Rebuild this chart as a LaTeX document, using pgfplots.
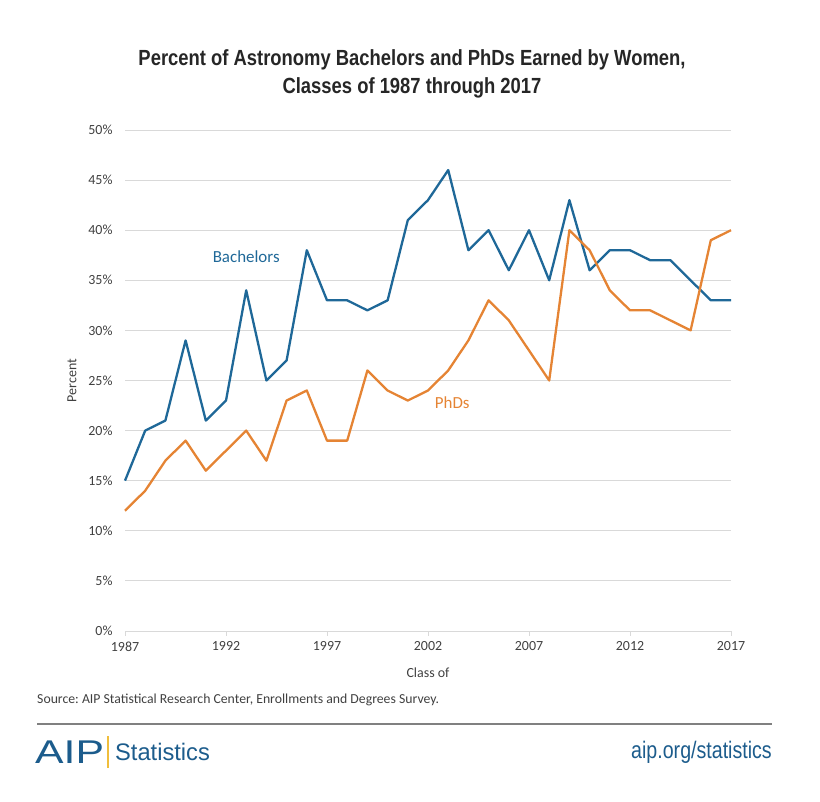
\documentclass[border=0pt]{standalone}
\usepackage{fontspec}
\setmainfont{Carlito}
\newfontfamily\titlefont[FakeStretch=0.84]{Liberation Sans Bold}
\newfontfamily\urlfont[FakeStretch=0.82]{Liberation Sans}
\newfontfamily\statfont[FakeStretch=0.99]{Liberation Sans}
\newfontfamily\aipfont[FakeStretch=1.3]{Liberation Sans}
\usepackage{pgfplots}
\pgfplotsset{compat=1.18}
\definecolor{bblue}{RGB}{31,104,152}
\definecolor{porange}{RGB}{229,132,52}
\definecolor{gridgray}{RGB}{217,217,217}
\definecolor{txt}{RGB}{64,64,64}
\definecolor{aipblue}{RGB}{28,92,140}
\definecolor{aipgold}{RGB}{240,190,60}
\frenchspacing
\begin{document}
\begin{tikzpicture}[x=1bp,y=1bp]
\useasboundingbox (0,0) rectangle (820,802);
\begin{axis}[
  at={(125bp,171bp)}, anchor=south west,
  scale only axis, width=606bp, height=501bp,
  xmin=1987, xmax=2017, ymin=0, ymax=50,
  xtick={1987,1992,...,2017},
  ytick={0,5,...,50},
  yticklabel={\pgfmathprintnumber{\tick}\%},
  xticklabel style={/pgf/number format/1000 sep={}},
  /pgf/number format/assume math mode=true,
  ymajorgrids, grid style={gridgray, line width=0.9bp},
  axis x line*=bottom,
  axis y line*=left,
  x axis line style={draw=gridgray, line width=0.9bp, -},
  y axis line style={draw=none},
  tick align=outside,
  xtick style={gridgray, line width=0.9bp},
  major tick length=5bp,
  ytick style={draw=none},
  tick label style={font=\fontsize{14}{15}\selectfont, text=txt},
  yticklabel style={xshift=-4bp},
  xticklabel style={yshift=-2bp},
  ylabel={Percent}, xlabel={Class of},
  label style={font=\fontsize{14}{15}\selectfont, text=txt},
  ylabel style={at={(axis description cs:0,0.5)}, anchor=south, yshift=45bp},
  xlabel style={at={(axis description cs:0.5,0)}, anchor=north, yshift=-33bp},
  clip=false,
]
\addplot[bblue, line width=2.3bp, line join=round] coordinates {
(1987,15)(1988,20)(1989,21)(1990,29)(1991,21)(1992,23)(1993,34)(1994,25)(1995,27)(1996,38)
(1997,33)(1998,33)(1999,32)(2000,33)(2001,41)(2002,43)(2003,46)(2004,38)(2005,40)(2006,36)
(2007,40)(2008,35)(2009,43)(2010,36)(2011,38)(2012,38)(2013,37)(2014,37)(2015,35)(2016,33)(2017,33)};
\addplot[porange, line width=2.3bp, line join=round] coordinates {
(1987,12)(1988,14)(1989,17)(1990,19)(1991,16)(1992,18)(1993,20)(1994,17)(1995,23)(1996,24)
(1997,19)(1998,19)(1999,26)(2000,24)(2001,23)(2002,24)(2003,26)(2004,29)(2005,33)(2006,31)
(2007,28)(2008,25)(2009,40)(2010,38)(2011,34)(2012,32)(2013,32)(2014,31)(2015,30)(2016,39)(2017,40)};
\node[text=bblue, font=\fontsize{17}{18}\selectfont] at (axis cs:1993.0,37.4) {Bachelors};
\node[text=porange, font=\fontsize{17}{18}\selectfont] at (axis cs:2003.2,22.8) {PhDs};
\end{axis}
\node[font=\titlefont\fontsize{22}{28}\selectfont, text={rgb,255:red,38;green,38;blue,38}, align=center] at (412,728) {Percent of Astronomy Bachelors and PhDs Earned by Women,\\Classes of 1987 through 2017};
\node[anchor=west, inner sep=0pt, font=\fontsize{13.8}{15}\selectfont, text=txt] at (37,102) {Source: AIP Statistical Research Center, Enrollments and Degrees Survey.};
\draw[gray, line width=1.2bp] (37,78) -- (772,78);
\node[anchor=west, inner sep=0pt, font=\aipfont\fontsize{33}{34}\selectfont, text=aipblue] at (35,50) {AIP};
\draw[aipgold, line width=1.2bp] (108,34) -- (108,66);
\node[anchor=west, inner sep=0pt, font=\statfont\fontsize{24}{28}\selectfont, text=aipblue] at (115,50) {Statistics};
\node[anchor=east, inner sep=0pt, font=\urlfont\fontsize{24}{28}\selectfont, text=aipblue] at (772,50) {aip.org/statistics};
\end{tikzpicture}
\end{document}
